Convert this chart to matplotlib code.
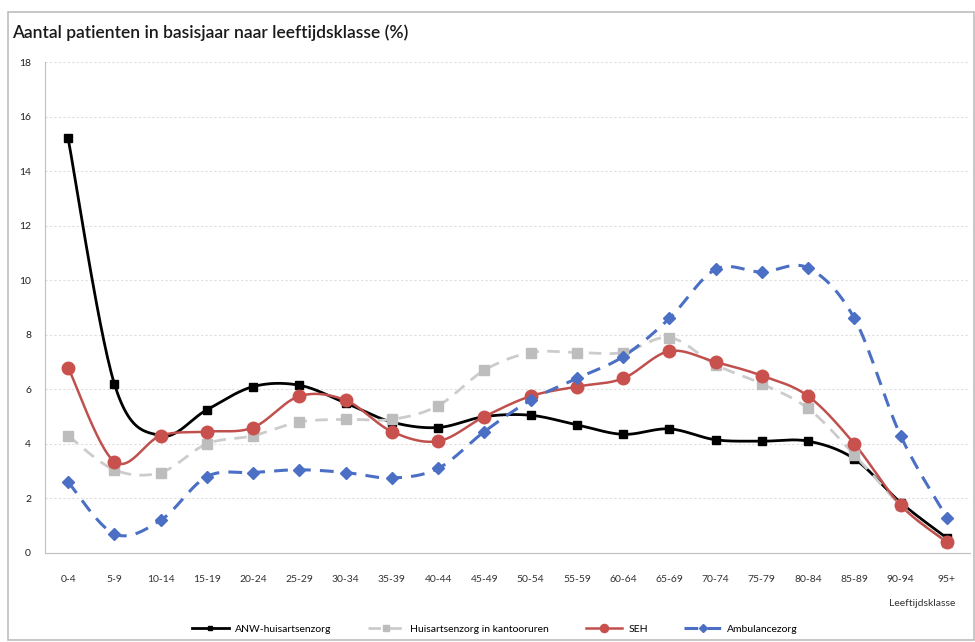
import numpy as np
import matplotlib
matplotlib.use("Agg")
import matplotlib.pyplot as plt
from matplotlib.patches import Rectangle
from matplotlib.lines import Line2D

categories = ["0-4", "5-9", "10-14", "15-19", "20-24", "25-29", "30-34", "35-39", "40-44",
              "45-49", "50-54", "55-59", "60-64", "65-69", "70-74", "75-79", "80-84",
              "85-89", "90-94", "95+"]
anw = [15.2, 6.2, 4.3, 5.25, 6.1, 6.15, 5.5, 4.8, 4.6, 5.0, 5.05, 4.7, 4.35, 4.55,
       4.15, 4.1, 4.1, 3.45, 1.85, 0.55]
kantoor = [4.3, 3.05, 2.95, 4.0, 4.3, 4.8, 4.9, 4.9, 5.4, 6.7, 7.35, 7.35, 7.35, 7.9,
           6.9, 6.2, 5.3, 3.6, 1.75, 0.4]
seh = [6.8, 3.35, 4.3, 4.45, 4.6, 5.75, 5.6, 4.45, 4.1, 5.0, 5.75, 6.1, 6.4, 7.4,
       7.0, 6.5, 5.75, 4.0, 1.75, 0.4]
ambulance = [2.6, 0.7, 1.2, 2.8, 2.95, 3.05, 2.95, 2.75, 3.1, 4.45, 5.6, 6.4, 7.2, 8.6,
             10.4, 10.3, 10.45, 8.6, 4.3, 1.3]
yticks = [0, 2, 4, 6, 8, 10, 12, 14, 16, 18]
title = "Aantal patienten in basisjaar naar leeftijdsklasse (%)"
xlabel = "Leeftijdsklasse"
names = ["ANW-huisartsenzorg", "Huisartsenzorg in kantooruren", "SEH", "Ambulancezorg"]

plt.rcParams['font.family'] = ['Lato', 'DejaVu Sans']


def smooth(y, n=30):
    """Excel-like smoothed line (Catmull-Rom via cubic Bezier)."""
    y = np.asarray(y, float)
    x = np.arange(len(y), dtype=float)
    P = np.column_stack([x, y])
    Pp = np.vstack([P[0], P, P[-1]])
    out = []
    t = np.linspace(0, 1, n)[:, None]
    for i in range(len(P) - 1):
        p0, p1, p2, p3 = Pp[i], Pp[i + 1], Pp[i + 2], Pp[i + 3]
        c1 = p1 + (p2 - p0) / 6.0
        c2 = p2 - (p3 - p1) / 6.0
        seg = ((1 - t) ** 3) * p1 + 3 * ((1 - t) ** 2) * t * c1 + 3 * (1 - t) * t ** 2 * c2 + t ** 3 * p2
        out.append(seg if i == 0 else seg[1:])
    s = np.vstack(out)
    return s[:, 0], s[:, 1]


fig = plt.figure(figsize=(9.75, 6.42), dpi=100)
fig.patches.append(Rectangle((8 / 975, 2 / 642), 966 / 975, 628 / 642, transform=fig.transFigure,
                             fill=False, edgecolor="#bdbdbd", linewidth=1.2))
ax = fig.add_axes([45 / 975, 1 - 553 / 642, 925 / 975, 491 / 642])

styles = [
    dict(data=anw, color="#000000", ls="-", lw=2.0, marker="s", ms=5.5, mc="#000000"),
    dict(data=kantoor, color="#cccccc", ls=(0, (4.5, 3)), lw=2.0, marker="s", ms=7.5, mc="#bdbdbd"),
    dict(data=seh, color="#c0504d", ls="-", lw=1.8, marker="o", ms=9, mc="#c9514d"),
    dict(data=ambulance, color="#4a6fc4", ls=(0, (4.5, 3)), lw=2.2, marker="D", ms=6, mc="#4a6fc4"),
]
x = np.arange(len(categories))
handles = []
for st, name in zip(styles, names):
    sx, sy = smooth(st["data"])
    ax.plot(sx, sy, color=st["color"], ls=st["ls"], lw=st["lw"], zorder=3)
    ax.plot(x, st["data"], ls="none", marker=st["marker"], ms=st["ms"],
            color=st["mc"], mec=st["mc"], zorder=4)
    handles.append(Line2D([], [], color=st["color"], ls=st["ls"], lw=st["lw"],
                          marker=st["marker"], ms=st["ms"] * 0.65, mfc=st["mc"], mec=st["mc"]))

ax.set_xlim(-0.5, len(categories) - 0.5)
ax.set_ylim(0, 18)
ax.set_yticks(yticks)
ax.set_xticks(x)
ax.set_xticklabels(categories, fontsize=7.5, color="#333333")
ax.tick_params(axis="y", labelsize=7.5, colors="#222222", length=0, pad=10)
ax.tick_params(axis="x", length=0, pad=16, colors="#333333")
ax.yaxis.grid(True, color="#dedede", ls=(0, (2, 2)), lw=0.8)
ax.set_axisbelow(True)
for s in ["top", "right"]:
    ax.spines[s].set_visible(False)
ax.spines["left"].set_color("#bfbfbf")
ax.spines["bottom"].set_color("#bfbfbf")

fig.text(12 / 975, 1 - 33 / 642, title, fontsize=12.5, fontweight="semibold", va="center", ha="left",
         color="#1a1a1a")
fig.text(955 / 975, 1 - 603 / 642, xlabel, fontsize=7.5, ha="right", va="center", color="#333333")

fig.legend(handles=handles, labels=names, loc="center", bbox_to_anchor=(495 / 975, 1 - 629 / 642),
           ncol=4, frameon=False, fontsize=7.5, handlelength=3.5, columnspacing=3.5, handletextpad=0.6)

fig.savefig("out.png", dpi=100)
